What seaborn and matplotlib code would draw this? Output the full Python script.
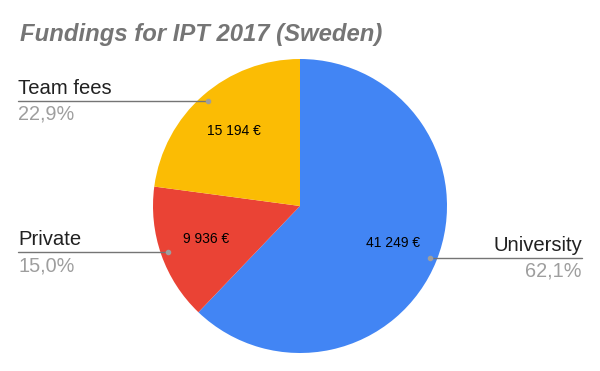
import numpy as np
import seaborn as sns
import matplotlib.pyplot as plt

# data
labels = ['University', 'Private', 'Team fees']
amounts = [41249, 9936, 15194]
colors = ['#4285F4', '#EA4335', '#FBBC04']

sns.set_style('white')
plt.rcParams['font.family'] = ['Liberation Sans', 'DejaVu Sans']

total = sum(amounts)
R = 147.0  # pie radius in pixels


def fmt_eur(p):
    v = int(round(p * total / 100.0))
    return f'{v:,}'.replace(',', ' ') + ' €'


fig = plt.figure(figsize=(6, 3.71), dpi=100)
# axes placed so the pie centre sits at (300, 206) px, radius 147 px
ax = fig.add_axes([153 / 600, 18 / 371, 294 / 600, 294 / 371])
wedges, _, autotexts = ax.pie(amounts, colors=colors, startangle=90, counterclock=False,
                              autopct=fmt_eur, pctdistance=0.68, radius=1,
                              wedgeprops=dict(linewidth=0),
                              textprops=dict(fontsize=10, color='black'))
ax.set_xlim(-1, 1)
ax.set_ylim(-1, 1)
ax.set_aspect('equal')
ax.axis('off')

x_edge = 282 / R  # leader lines run out to 18 px / 582 px
for w, lab, amt in zip(wedges, labels, amounts):
    ang = np.deg2rad((w.theta1 + w.theta2) / 2)
    x0, y0 = 0.95 * np.cos(ang), 0.95 * np.sin(ang)
    side = 1 if x0 > 0 else -1
    x1 = side * x_edge
    ax.plot([x0, x1], [y0, y0], color='#757575', lw=1, clip_on=False, zorder=3)
    ax.plot([x0], [y0], 'o', ms=3, color='#9E9E9E', clip_on=False, zorder=4)
    ha = 'right' if side > 0 else 'left'
    pct = f'{100 * amt / total:.1f}'.replace('.', ',') + '%'
    ax.text(x1, y0 + 7 / R, lab, ha=ha, va='baseline', fontsize=14.6, color='#212121')
    ax.text(x1, y0 - 4 / R, pct, ha=ha, va='top', fontsize=14.3, color='#9E9E9E')

fig.text(20 / 600, 1 - 41 / 371, 'Fundings for IPT 2017 (Sweden)', fontsize=17.2,
         fontweight='bold', fontstyle='italic', color='#757575', va='baseline')

fig.savefig('out.png', dpi=100)
